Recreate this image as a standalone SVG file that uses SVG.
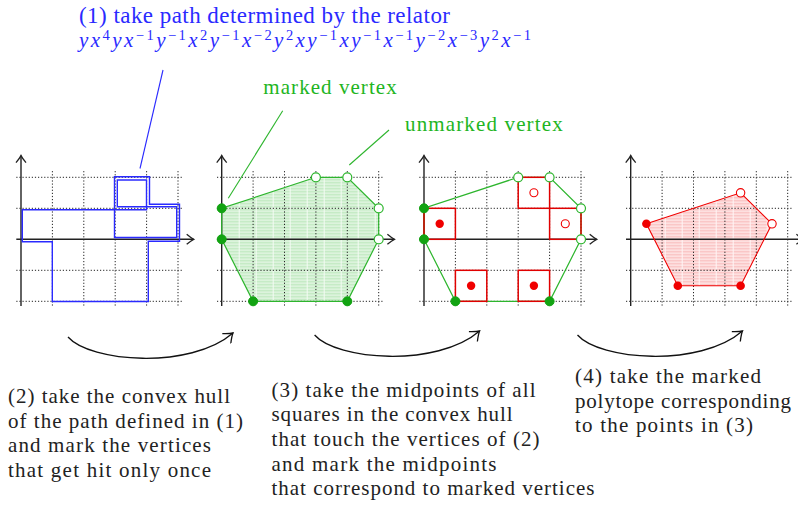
<svg xmlns="http://www.w3.org/2000/svg" xmlns:xlink="http://www.w3.org/1999/xlink" width="798" height="507" viewBox="0 0 798 507" font-family="Liberation Serif">
<style>
.t{font-size:21px;fill:#222}
.blue{fill:#2a2aff}
.green{fill:#22b522}
.it{font-style:italic}
.sup{font-size:14.5px}
.dotted{stroke:#222;stroke-width:1;stroke-dasharray:1.2 1.9;fill:none}
.axis{stroke:#222;stroke-width:1.4;fill:none}
.hullG{fill:none;stroke:#2db52d;stroke-width:1.2}
.mG{fill:#12a312;stroke:#12a312;stroke-width:1}
.uG{fill:#fff;stroke:#2db52d;stroke-width:1.2}
.sqR{fill:none;stroke:#e00000;stroke-width:1.5}
.mR{fill:#f00000}
.uR{fill:#fff;stroke:#f00000;stroke-width:1.1}
.conn{fill:none;stroke:#111;stroke-width:1.3}
</style>
<defs>
<marker id="ah" viewBox="-11 -7 13 14" refX="0" refY="0" markerWidth="13" markerHeight="14" orient="auto" markerUnits="userSpaceOnUse">
<path d="M-8.5,-6.5 Q-3,-1.5 0,0 Q-3,1.5 -8.5,6.5" fill="none" stroke="#111" stroke-width="1.3"/>
</marker>
<marker id="axh" viewBox="-9 -6 11 12" refX="0" refY="0" markerWidth="11" markerHeight="12" orient="auto" markerUnits="userSpaceOnUse">
<path d="M-7,-5 Q-2.5,-1.2 0,0 Q-2.5,1.2 -7,5" fill="none" stroke="#222" stroke-width="1.3"/>
</marker>
<pattern id="hatchG" width="17" height="3" patternUnits="userSpaceOnUse">
<rect width="17" height="3" fill="#dcf3dc"/>
<rect width="17" height="1" fill="#bde8bd"/>
<rect width="1" height="3" fill="#f4fbf4"/>
</pattern>
<pattern id="hatchR" width="17" height="3" patternUnits="userSpaceOnUse">
<rect width="17" height="3" fill="#fde0e0"/>
<rect width="17" height="1" fill="#f8bcbc"/>
<rect width="1" height="3" fill="#fff6f6"/>
</pattern>
<g id="grid">
<path class="dotted" d="M31.4,-68.2V68.2M62.8,-68.2V68.2M94.2,-68.2V68.2M125.6,-68.2V68.2M157,-68.2V68.2M-4.7,-62H161.7M-4.7,-31H161.7M-4.7,31H161.7M-4.7,62H161.7"/>
<path class="axis" d="M-4.7,0H172.7" marker-end="url(#axh)"/>
<path class="axis" d="M0,66.7V-83.7" marker-end="url(#axh)"/>
</g>
</defs>
<rect width="798" height="507" fill="#fff"/>

<g id="label-relator" font-family="Liberation Serif">
<text class="t blue" x="79" y="22.5" font-family="Liberation Serif" style="font-family:'Liberation Serif',serif;font-size:23px" textLength="371">(1) take path determined by the relator</text>
<text class="t blue" x="79" y="47" font-family="Liberation Serif" style="font-family:'Liberation Serif',serif" textLength="452"><tspan class="it">y</tspan><tspan class="it">x</tspan><tspan class="sup" dy="-7">4</tspan><tspan class="it" dy="7">y</tspan><tspan class="it">x</tspan><tspan class="sup" dy="-7">−1</tspan><tspan class="it" dy="7">y</tspan><tspan class="sup" dy="-7">−1</tspan><tspan class="it" dy="7">x</tspan><tspan class="sup" dy="-7">2</tspan><tspan class="it" dy="7">y</tspan><tspan class="sup" dy="-7">−1</tspan><tspan class="it" dy="7">x</tspan><tspan class="sup" dy="-7">−2</tspan><tspan class="it" dy="7">y</tspan><tspan class="sup" dy="-7">2</tspan><tspan class="it" dy="7">x</tspan><tspan class="it">y</tspan><tspan class="sup" dy="-7">−1</tspan><tspan class="it" dy="7">x</tspan><tspan class="it">y</tspan><tspan class="sup" dy="-7">−1</tspan><tspan class="it" dy="7">x</tspan><tspan class="sup" dy="-7">−1</tspan><tspan class="it" dy="7">y</tspan><tspan class="sup" dy="-7">−2</tspan><tspan class="it" dy="7">x</tspan><tspan class="sup" dy="-7">−3</tspan><tspan class="it" dy="7">y</tspan><tspan class="sup" dy="-7">2</tspan><tspan class="it" dy="7">x</tspan><tspan class="sup" dy="-7">−1</tspan></text>
</g>

<g id="label-marked" font-family="Liberation Serif">
<text class="t green" x="263.3" y="94" font-family="Liberation Serif" style="font-family:'Liberation Serif',serif" textLength="133.4">marked vertex</text>
</g>
<g id="label-unmarked" font-family="Liberation Serif">
<text class="t green" x="405" y="131" font-family="Liberation Serif" style="font-family:'Liberation Serif',serif" textLength="157.7">unmarked vertex</text>
</g>

<g id="panel1" transform="translate(21,239.3)">
<use href="#grid" xlink:href="#grid"/>
<path d="M1.3,2.4V-29.5H125.5V-59.3H96.3V-32.5H155.7V-1.8H93.5V-62.6H128.5V-35H158.5V2H127.3V62.2H31.3V2.4Z" fill="none" stroke="#2a2aff" stroke-width="1.4" stroke-linejoin="miter"/>
</g>

<g id="panel2" transform="translate(221.7,239.3)">
<polygon points="0,-31 0,0 31.4,62 125.6,62 157,0 157,-31 125.6,-62 94.2,-62" fill="url(#hatchG)"/>
<use href="#grid" xlink:href="#grid"/>
<polygon class="hullG" points="0,-31 0,0 31.4,62 125.6,62 157,0 157,-31 125.6,-62 94.2,-62"/>
<circle class="mG" cx="0" cy="-31" r="4.5"/>
<circle class="mG" cx="0" cy="0" r="4.5"/>
<circle class="mG" cx="31.4" cy="62" r="4.5"/>
<circle class="mG" cx="125.6" cy="62" r="4.5"/>
<circle class="uG" cx="157" cy="0" r="4.5"/>
<circle class="uG" cx="157" cy="-31" r="4.5"/>
<circle class="uG" cx="125.6" cy="-62" r="4.5"/>
<circle class="uG" cx="94.2" cy="-62" r="4.5"/>
</g>

<g id="panel3" transform="translate(424,239.3)">
<use href="#grid" xlink:href="#grid"/>
<polygon class="hullG" points="0,-31 0,0 31.4,62 125.6,62 157,0 157,-31 125.6,-62 94.2,-62"/>
<rect class="sqR" x="0" y="-31" width="31.4" height="31"/>
<rect class="sqR" x="94.2" y="-62" width="31.4" height="31"/>
<rect class="sqR" x="125.6" y="-31" width="31.4" height="31"/>
<rect class="sqR" x="31.4" y="31" width="31.4" height="31"/>
<rect class="sqR" x="94.2" y="31" width="31.4" height="31"/>
<circle class="mG" cx="0" cy="-31" r="4.5"/>
<circle class="mG" cx="0" cy="0" r="4.5"/>
<circle class="mG" cx="31.4" cy="62" r="4.5"/>
<circle class="mG" cx="125.6" cy="62" r="4.5"/>
<circle class="uG" cx="157" cy="0" r="4.5"/>
<circle class="uG" cx="157" cy="-31" r="4.5"/>
<circle class="uG" cx="125.6" cy="-62" r="4.5"/>
<circle class="uG" cx="94.2" cy="-62" r="4.5"/>
<circle class="mR" cx="15.7" cy="-15.5" r="4.2"/>
<circle class="mR" cx="47.1" cy="46.5" r="4.2"/>
<circle class="mR" cx="109.9" cy="46.5" r="4.2"/>
<circle class="uR" cx="109.9" cy="-46.5" r="4"/>
<circle class="uR" cx="141.3" cy="-15.5" r="4"/>
</g>

<g id="panel4" transform="translate(630.7,239.3)">
<polygon points="15.7,-15.5 109.9,-46.5 141.3,-15.5 109.9,46.5 47.1,46.5" fill="url(#hatchR)"/>
<use href="#grid" xlink:href="#grid"/>
<polygon points="15.7,-15.5 109.9,-46.5 141.3,-15.5 109.9,46.5 47.1,46.5" fill="none" stroke="#f00000" stroke-width="1.1"/>
<circle class="mR" cx="15.7" cy="-15.5" r="4.3"/>
<circle class="mR" cx="109.9" cy="46.5" r="4.3"/>
<circle class="mR" cx="47.1" cy="46.5" r="4.3"/>
<circle class="uR" cx="109.9" cy="-46.5" r="4.2"/>
<circle class="uR" cx="141.3" cy="-15.5" r="4.2"/>
</g>

<g id="connectors">
<line x1="163" y1="70" x2="140" y2="168.5" stroke="#2a2aff" stroke-width="1.1"/>
<line x1="282.7" y1="110.7" x2="228.3" y2="198.3" stroke="#2db52d" stroke-width="1.1"/>
<line x1="389" y1="130" x2="349.3" y2="165" stroke="#2db52d" stroke-width="1.1"/>
<path class="conn" d="M68,337 C90,362 190,370 233,333" marker-end="url(#ah)"/>
<path class="conn" d="M314.6,335 C336.6,360 436.6,368 479.6,331" marker-end="url(#ah)"/>
<path class="conn" d="M577.5,335 C599.5,360 699.5,368 742.5,331" marker-end="url(#ah)"/>
</g>

<g id="caption2" font-family="Liberation Serif">
<text class="t" x="8" y="403" font-family="Liberation Serif" style="font-family:'Liberation Serif',serif" textLength="222">(2) take the convex hull</text>
<text class="t" x="8" y="427.6" font-family="Liberation Serif" style="font-family:'Liberation Serif',serif" textLength="235">of the path defined in (1)</text>
<text class="t" x="8" y="452.2" font-family="Liberation Serif" style="font-family:'Liberation Serif',serif" textLength="203">and mark the vertices</text>
<text class="t" x="8" y="476.8" font-family="Liberation Serif" style="font-family:'Liberation Serif',serif" textLength="203">that get hit only once</text>
</g>
<g id="caption3" font-family="Liberation Serif">
<text class="t" x="271.5" y="396.7" font-family="Liberation Serif" style="font-family:'Liberation Serif',serif" textLength="264">(3) take the midpoints of all</text>
<text class="t" x="271.5" y="421.3" font-family="Liberation Serif" style="font-family:'Liberation Serif',serif" textLength="241">squares in the convex hull</text>
<text class="t" x="271.5" y="445.9" font-family="Liberation Serif" style="font-family:'Liberation Serif',serif" textLength="268">that touch the vertices of (2)</text>
<text class="t" x="271.5" y="470.5" font-family="Liberation Serif" style="font-family:'Liberation Serif',serif" textLength="225">and mark the midpoints</text>
<text class="t" x="271.5" y="495.1" font-family="Liberation Serif" style="font-family:'Liberation Serif',serif" textLength="323">that correspond to marked vertices</text>
</g>
<g id="caption4" font-family="Liberation Serif">
<text class="t" x="575" y="383" font-family="Liberation Serif" style="font-family:'Liberation Serif',serif" textLength="186">(4) take the marked</text>
<text class="t" x="575" y="407.6" font-family="Liberation Serif" style="font-family:'Liberation Serif',serif" textLength="216">polytope corresponding</text>
<text class="t" x="575" y="432.2" font-family="Liberation Serif" style="font-family:'Liberation Serif',serif" textLength="178">to the points in (3)</text>
</g>
</svg>
